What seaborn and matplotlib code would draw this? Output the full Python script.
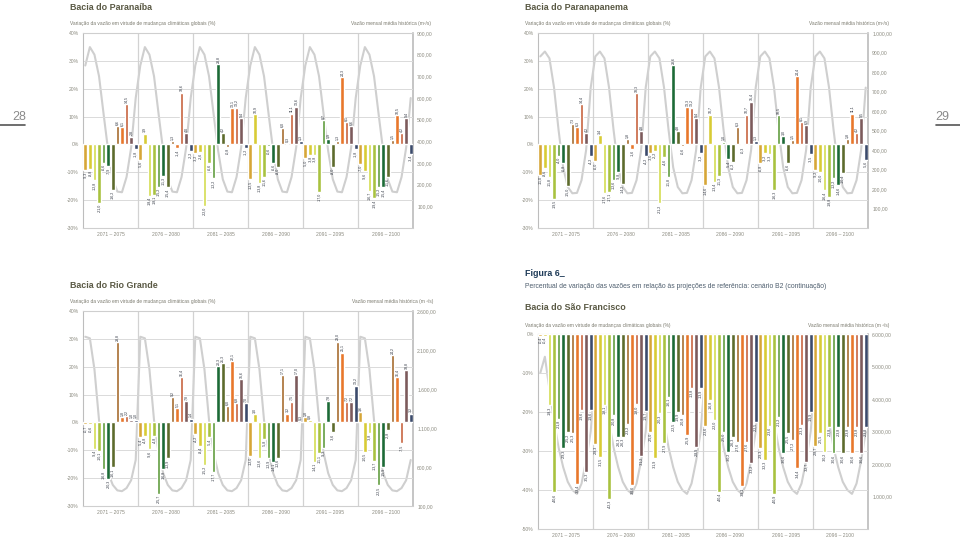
import numpy as np
import pandas as pd
import matplotlib
matplotlib.use("Agg")
import matplotlib.pyplot as plt
import seaborn as sns

sns.set_style("white")
plt.rcParams["font.family"] = ["Liberation Sans", "DejaVu Sans"]

# ---------------- data ----------------
meses = ["JAN", "FEV", "MAR", "ABR", "MAI", "JUN", "JUL", "AGO", "SET", "OUT", "NOV", "DEZ"]
periodos = ["2071 – 2075", "2076 – 2080", "2081 – 2085", "2086 – 2090", "2091 – 2095", "2096 – 2100"]
cores_meses = ["#D6A637", "#D8CB35", "#D3DC4C", "#A8C23F", "#5E9B3B", "#1C6A36",
               "#5D6B2C", "#A5692B", "#E8772B", "#C6613B", "#7C5A5B", "#3B4A6B"]

paranaiba_var = [
    -9.3, -8.8, -12.8, -21.0, -6.6, -7.9, -16.2, 6.6, 6.1, 14.5, 2.8, -1.8,
    -5.6, 3.9, -18.4, -18.1, -15.2, -11.3, -15.4, 1.3, -1.4, 18.6, 4.0, -2.2,
    -3.2, -2.6, -22.0, -6.6, -12.2, 28.8, 4.2, -0.8, 13.1, 13.2, 9.4, -1.2,
    -12.5, 10.9, -13.8, -11.6, -0.6, -6.6, -8.0, 6.0, 0.3, 11.1, 13.6, 1.3,
    -5.0, -3.8, -3.8, -17.0, 8.7, 1.9, -8.0, 1.3, 24.3, 8.1, 6.6, -1.8,
    -7.0, -9.6, -16.7, -19.4, -15.2, -15.4, -11.6, 1.5, 10.5, 4.2, 9.4, -3.4]
paranaiba_vazao = [750, 835, 800, 700, 525, 355, 225, 168, 165, 235, 370, 600]

paranapanema_var = [
    -11.0, -8.6, -11.8, -19.5, -4.0, -6.8, -15.0, 7.3, 6.3, 14.4, 4.2, -4.2,
    -6.0, 3.4, -17.6, -17.1, -12.6, -9.8, -14.2, 1.8, -1.6, 18.3, 4.8, -4.2,
    -3.0, -2.2, -21.2, -4.6, -11.8, 28.6, 4.8, -0.6, 13.3, 13.2, 9.4, -3.2,
    -14.6, 10.7, -13.4, -11.3, 1.0, -5.4, -6.2, 6.3, -0.3, 10.7, 15.4, 1.3,
    -6.8, -3.2, -3.3, -16.3, 10.5, 3.0, -6.6, 1.5, 24.4, 8.1, 6.9, -3.5,
    -9.2, -10.0, -16.4, -18.8, -12.2, -14.6, -10.4, 1.8, 11.1, 4.2, 9.5, -5.6]
paranapanema_vazao = [880, 905, 870, 720, 500, 310, 210, 178, 180, 245, 400, 720]

riogrande_var = [
    -0.7, -0.6, -9.4, -10.1, -16.8, -20.3, -16.1, 28.8, 1.8, 2.2, 1.0, 1.0,
    -5.4, -4.8, -9.6, -4.8, -25.7, -16.8, -12.9, 9.2, 5.1, 16.4, 7.8, 1.4,
    -4.2, -8.4, -15.2, -5.4, -17.7, 20.3, 21.3, 6.0, 22.1, 6.8, 15.6, 7.0,
    -12.0, 3.0, -12.6, -5.8, -12.9, -14.1, -12.6, 17.1, 3.2, 7.5, 17.0, 0.3,
    1.8, 0.8, -14.1, -11.1, -9.3, 7.8, -3.6, 29.0, 25.1, 7.2, 7.2, 13.2,
    3.6, -10.5, -3.8, -13.7, -22.5, -15.9, -2.8, 24.2, 16.4, -7.5, 18.8, 3.2]
riogrande_vazao = [2270, 2250, 1850, 1200, 780, 520, 370, 300, 290, 330, 430, 690]

saofrancisco_var = [
    -0.4, -0.4, -18.3, -40.6, -21.8, -29.3, -25.2, -25.3, -38.4, -19.6, -35.3, -19.6,
    -28.3, -31.5, -18.1, -42.3, -20.8, -26.3, -26.3, -23.2, -38.6, -18.0, -31.2, -19.7,
    -25.0, -31.9, -20.3, -27.9, -16.1, -22.5, -19.9, -20.8, -25.9, -13.8, -28.9, -13.9,
    -23.6, -16.8, -22.0, -40.4, -25.0, -30.2, -26.3, -27.6, -39.1, -27.6, -33.2, -22.5,
    -29.3, -32.3, -23.6, -40.9, -21.2, -30.6, -25.5, -27.2, -34.4, -23.3, -32.7, -19.9,
    -28.7, -25.5, -30.2, -23.8, -30.6, -23.8, -30.6, -23.8, -30.6, -23.8, -30.6, -23.8]
saofrancisco_vazao = [4800, 5300, 4300, 3300, 2500, 1900, 1450, 1200, 1080, 1400, 2100, 3000]

# tick definitions
pct_ticks_a = [40, 30, 20, 10, 0, -10, -20, -30]
pct_ticks_b = [0, -10, -20, -30, -40, -50]
paranaiba_rticks = [100, 200, 300, 400, 500, 600, 700, 800, 900]
paranapanema_rticks = [100, 200, 300, 400, 500, 600, 700, 800, 900, 1000]
riogrande_rticks = [100, 600, 1100, 1600, 2100, 2600]
saofrancisco_rticks = [1000, 2000, 3000, 4000, 5000, 6000]

# ---------------- styling ----------------
W, H = 960, 542
fig = plt.figure(figsize=(W / 100, H / 100), dpi=100)
fig.patch.set_facecolor("white")

TITLE_C = "#5A5944"
SUB_C = "#7B7A6E"
TICK_C = "#8C8B80"
GRID_C = "#DADADA"
CURVE_C = "#CFCFCF"
TICK_FS = 3.6
SUB_FS = 3.5
TITLE_FS = 6.4
palette = dict(zip(meses, cores_meses))


def fmt_num(v):
    s = f"{v:,.2f}"
    return s.replace(",", "X").replace(".", ",").replace("X", ".")


def fx(x):
    return x / W


def fy(y):
    return 1 - y / H


def panel(x0, y0, x1, y1, values, vazao, ylim, yticks, rlim, rticks):
    ax = fig.add_axes([fx(x0), fy(y1), fx(x1 - x0), (y1 - y0) / H])
    n = len(values)
    df = pd.DataFrame({
        "pos": np.arange(n),
        "var": values,
        "mes": [meses[i % 12] for i in range(n)],
    })
    sns.barplot(data=df, x="pos", y="var", hue="mes", hue_order=meses, palette=palette,
                dodge=False, legend=False, errorbar=None, saturation=1, width=0.8,
                ax=ax, zorder=3)
    ax.set_xlim(-0.5, n - 0.5)
    ax.set_ylim(*ylim)
    ax.set_yticks(yticks)
    ax.set_yticklabels([f"{t}%" for t in yticks])
    ax.set_xticks([6 * (2 * k + 1) - 0.5 for k in range(6)])
    ax.set_xticklabels(periodos)
    ax.set_xlabel("")
    ax.set_ylabel("")
    ax.tick_params(axis="both", length=0, labelsize=TICK_FS, colors=TICK_C, pad=3)
    ax.yaxis.grid(True, color=GRID_C, lw=0.7)
    ax.set_axisbelow(True)
    for k in range(1, 6):
        ax.axvline(12 * k - 0.5, color="#D2D2D2", lw=0.9, zorder=1)
    for side in ["top", "bottom", "left"]:
        ax.spines[side].set_visible(True)
        ax.spines[side].set_color("#CFCFCF")
        ax.spines[side].set_linewidth(0.8)
    ax.spines["right"].set_visible(False)
    ax.spines["left"].set_color("#BDBDBD")

    # value labels
    span = ylim[1] - ylim[0]
    pad = span * 0.006
    for i, v in enumerate(values):
        txt = f"{v:.1f}".replace(".", ",")
        if v >= 0:
            ax.text(i, v + pad, txt, rotation=90, ha="center", va="bottom",
                    fontsize=2.6, color="#2E3440", zorder=5)
        else:
            ax.text(i, v - pad, txt, rotation=90, ha="center", va="top",
                    fontsize=2.6, color="#2E3440", zorder=5)

    # historical curve on twin axis, drawn behind bars
    ax2 = ax.twinx()
    flows = np.tile(vazao, n // 12)
    sns.lineplot(x=np.arange(n), y=flows, ax=ax2, color=CURVE_C, lw=1.5,
                 solid_joinstyle="round", solid_capstyle="round")
    ax2.set_ylim(*rlim)
    ax2.set_yticks(rticks)
    ax2.set_yticklabels([fmt_num(t) for t in rticks])
    ax2.tick_params(axis="y", length=0, labelsize=TICK_FS, colors=TICK_C, pad=3)
    ax2.set_ylabel("")
    for side in ["top", "bottom", "left"]:
        ax2.spines[side].set_visible(False)
    ax2.spines["right"].set_color("#B5B5B5")
    ax2.spines["right"].set_linewidth(1.1)
    ax.set_zorder(ax2.get_zorder() + 1)
    ax.patch.set_visible(False)
    return ax


def header(x, y_title, y_sub, right_x, title, right_text):
    fig.text(fx(x), fy(y_title), title, fontsize=TITLE_FS, fontweight="bold",
             color=TITLE_C, ha="left", va="center")
    fig.text(fx(x), fy(y_sub), "Variação da vazão em virtude de mudanças climáticas globais (%)",
             fontsize=SUB_FS, color=SUB_C, ha="left", va="center")
    fig.text(fx(right_x), fy(y_sub), right_text, fontsize=SUB_FS,
             color=SUB_C, ha="right", va="center")


# Paranaíba
header(70, 8, 24, 431, "Bacia do Paranaíba", "Vazão mensal média histórica (m³/s)")
panel(83, 33, 413, 228, paranaiba_var, paranaiba_vazao, (-30, 40), pct_ticks_a,
      (0, 900), paranaiba_rticks)

# Paranapanema
header(525, 8, 24, 889, "Bacia do Paranapanema", "Vazão mensal média histórica (m³/s)")
panel(538, 33, 868, 228, paranapanema_var, paranapanema_vazao, (-30, 40), pct_ticks_a,
      (0, 1000), paranapanema_rticks)

# Rio Grande
header(70, 286, 301, 433, "Bacia do Rio Grande", "Vazão mensal média histórica (m ³/s)")
panel(83, 311, 413, 506, riogrande_var, riogrande_vazao, (-30, 40), pct_ticks_a,
      (100, 2600), riogrande_rticks)

# São Francisco + figure caption
fig.text(fx(525), fy(273), "Figura 6_", fontsize=TITLE_FS, fontweight="bold",
         color="#1F3B58", ha="left", va="center")
fig.text(fx(525), fy(287),
         "Percentual de variação das vazões em relação às projeções de referência: cenário B2 (continuação)",
         fontsize=4.9, color="#4E5E6E", ha="left", va="center")
header(525, 308, 325, 889, "Bacia do São Francisco", "Vazão mensal média histórica (m ³/s)")
panel(538, 334, 868, 529, saofrancisco_var, saofrancisco_vazao, (-50, 0), pct_ticks_b,
      (0, 6000), saofrancisco_rticks)

# page numbers
fig.text(fx(19), fy(117), "28", fontsize=9, color="#8A8A8A", ha="center", va="center")
fig.add_artist(plt.Line2D([0, fx(25)], [fy(125), fy(125)], color="#555555", lw=1.2))
fig.text(fx(942), fy(117), "29", fontsize=9, color="#8A8A8A", ha="center", va="center")
fig.add_artist(plt.Line2D([fx(936), 1], [fy(125), fy(125)], color="#555555", lw=1.2))

fig.savefig("out.png", dpi=100, facecolor="white")
